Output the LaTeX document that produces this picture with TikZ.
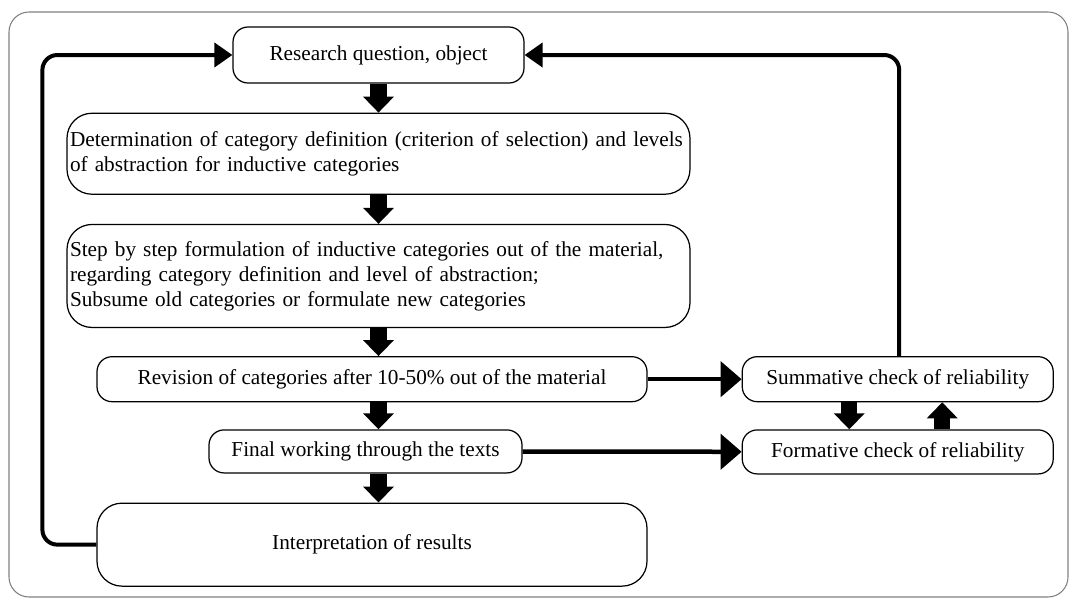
\documentclass[tikz,border=0pt]{standalone}
\usepackage{fontspec}
\setmainfont{Liberation Serif}
\usetikzlibrary{arrows.meta,positioning}

\begin{document}
\begin{tikzpicture}[
 box/.style={draw,line width=0.7pt,rounded corners=0.3cm,align=center,inner sep=0pt,font=\fontsize{12.1}{14.2}\selectfont},
 bigbox/.style={box,rounded corners=0.5cm,align=left,inner xsep=0.06cm,text width=12.34cm},
 blockarrow/.style={line width=0.33cm,-{Triangle[length=0.32cm,width=0.6cm]}},
 loopline/.style={line width=0.08cm,rounded corners=0.3cm,-{Triangle[length=0.36cm,width=0.48cm]}},
 sideline/.style={line width=0.09cm,-{Triangle[length=0.42cm,width=0.7cm]}}]
\useasboundingbox (0,0) rectangle (21.38,-11.98);
\draw[gray,line width=0.6pt,rounded corners=0.4cm] (0.18,-0.24) rectangle (21.36,-11.94);
% main column
\node[box,minimum width=5.82cm,minimum height=1.12cm] (rq) at (7.57,-1.10) {Research question, object};
\node[bigbox,minimum height=1.62cm,below=0.58cm of rq] (det) {Determination of category definition (criterion of selection) and levels\\of abstraction for inductive categories};
\node[bigbox,minimum height=2.06cm,below=0.58cm of det] (formul) {Step by step formulation of inductive categories out of the material,\\regarding category definition and level of abstraction;\\Subsume old categories or formulate new categories};
\node[box,minimum width=11cm,minimum height=0.9cm,below=0.56cm of formul,xshift=-0.13cm] (rev) {Revision of categories after 10-50\% out of the material};
\node[box,minimum width=6.26cm,minimum height=0.86cm,below=0.54cm of rev,xshift=-0.13cm] (final) {Final working through the texts};
\node[box,rounded corners=0.5cm,minimum width=11cm,minimum height=1.66cm,below=0.58cm of final,xshift=0.13cm] (interp) {Interpretation of results};
% reliability checks
\node[box,minimum width=6.22cm,minimum height=0.9cm,right=1.88cm of rev] (summ) {Summative check of reliability};
\node[box,minimum width=6.22cm,minimum height=0.88cm,below=0.54cm of summ] (form) {Formative check of reliability};
\draw[blockarrow] (rq)--(det); \draw[blockarrow] (det)--(formul);
\draw[blockarrow] (formul.south)--(formul.south |- rev.north);
\draw[blockarrow] (rev.south -| formul.south)--(final.north -| formul.south);
\draw[blockarrow] (final.south -| formul.south)--(interp.north -| formul.south);
\draw[blockarrow] ([xshift=-0.97cm]summ.south)--([xshift=-0.97cm]form.north);
\draw[blockarrow] ([xshift=0.89cm]form.north)--([xshift=0.89cm]summ.south);
\draw[sideline] (rev)--(summ); \draw[sideline] (final)--(form);
\draw[loopline] (interp.west)--++(-1.08,0) |- (rq.west);
\draw[loopline] ([xshift=0.03cm]summ.north) |- (rq.east);
\end{tikzpicture}
\end{document}
